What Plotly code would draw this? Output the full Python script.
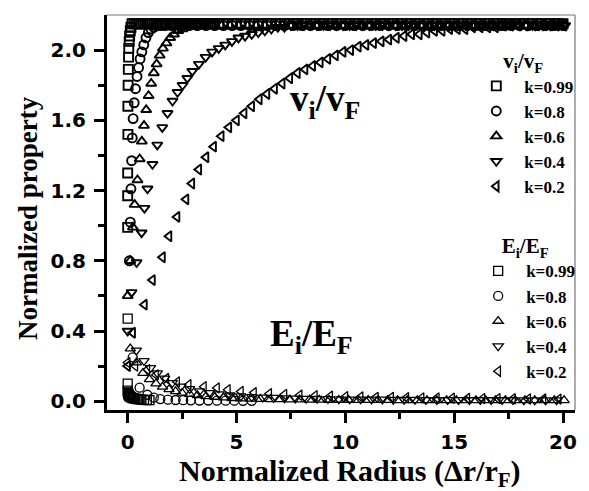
import plotly.graph_objects as go

# ---------------- data ----------------
k_labels = ["k=0.99", "k=0.8", "k=0.6", "k=0.4", "k=0.2"]
symbols = ["square-open", "circle-open", "triangle-up-open", "triangle-down-open", "triangle-left-open"]

# v_i / v_F  (k = 0.99)
sq_v_x = [0.00, 0.00, 0.00, 0.01, 0.01, 0.02, 0.03, 0.04, 0.05, 0.07, 0.09, 0.12, 0.15,
          0.2, 0.3, 0.4, 0.5, 0.6, 0.7, 0.8, 0.9, 1.0, 1.1,
          1.2, 1.3, 1.4, 1.5, 1.6, 1.7, 1.8, 1.9, 2.0, 2.1,
          2.2, 2.3, 2.4, 2.5, 2.6, 2.7, 2.8, 2.9, 3.0, 3.1,
          3.2, 3.3, 3.4, 3.5, 3.6, 3.7, 3.8, 3.9, 4.0,
          4.2, 4.4, 4.6, 4.8, 5.0, 5.2, 5.4, 5.6, 5.8, 6.0,
          6.2, 6.4, 6.6, 6.8, 7.0, 7.2, 7.4, 7.6, 7.8, 8.0,
          8.2, 8.4, 8.6, 8.8, 9.0, 9.2, 9.4, 9.6, 9.8, 10.0,
          10.2, 10.4, 10.6, 10.8, 11.0, 11.2, 11.4, 11.6, 11.8, 12.0,
          12.2, 12.4, 12.6, 12.8, 13.0, 13.2, 13.4, 13.6, 13.8, 14.0,
          14.2, 14.4, 14.6, 14.8, 15.0, 15.2, 15.4, 15.6, 15.8, 16.0,
          16.2, 16.4, 16.6, 16.8, 17.0, 17.2, 17.4, 17.6, 17.8, 18.0,
          18.2, 18.4, 18.6, 18.8, 19.0, 19.2, 19.4, 19.6, 19.8, 20.0]
sq_v_y = [0.99, 1.17, 1.30, 1.52, 1.68, 1.80, 1.89, 1.96, 2.01, 2.05, 2.08, 2.11, 2.13,
          2.15, 2.15, 2.15, 2.15, 2.15, 2.15, 2.15, 2.15, 2.15, 2.15,
          2.15, 2.15, 2.15, 2.15, 2.15, 2.15, 2.15, 2.15, 2.15, 2.15,
          2.15, 2.15, 2.15, 2.15, 2.15, 2.15, 2.15, 2.15, 2.15, 2.15,
          2.15, 2.15, 2.15, 2.15, 2.15, 2.15, 2.15, 2.15, 2.15,
          2.15, 2.15, 2.15, 2.15, 2.15, 2.15, 2.15, 2.15, 2.15, 2.15,
          2.15, 2.15, 2.15, 2.15, 2.15, 2.15, 2.15, 2.15, 2.15, 2.15,
          2.15, 2.15, 2.15, 2.15, 2.15, 2.15, 2.15, 2.15, 2.15, 2.15,
          2.15, 2.15, 2.15, 2.15, 2.15, 2.15, 2.15, 2.15, 2.15, 2.15,
          2.15, 2.15, 2.15, 2.15, 2.15, 2.15, 2.15, 2.15, 2.15, 2.15,
          2.15, 2.15, 2.15, 2.15, 2.15, 2.15, 2.15, 2.15, 2.15, 2.15,
          2.15, 2.15, 2.15, 2.15, 2.15, 2.15, 2.15, 2.15, 2.15, 2.15,
          2.15, 2.15, 2.15, 2.15, 2.15, 2.15, 2.15, 2.15, 2.15, 2.15]

# v_i / v_F  (k = 0.8)
ci_v_x = [0.08, 0.12, 0.15, 0.18, 0.21, 0.25, 0.30, 0.36, 0.43, 0.50,
          0.57, 0.65, 0.74, 0.84, 0.95, 1.07, 1.20, 1.35, 1.52, 1.72,
          2.0, 2.4, 2.8, 3.2, 3.6, 4.0, 4.4, 4.8, 5.2, 5.6,
          6.0, 6.4, 6.8, 7.2, 7.6, 8.0, 8.4, 8.8, 9.2, 9.6,
          10.0, 10.4, 10.8, 11.2, 11.6, 12.0, 12.4, 12.8, 13.2, 13.6,
          14.0, 14.4, 14.8, 15.2, 15.6, 16.0, 16.4, 16.8, 17.2, 17.6,
          18.0, 18.4, 18.8, 19.2, 19.6, 20.0]
ci_v_y = [0.80, 1.02, 1.21, 1.37, 1.50, 1.61, 1.70, 1.78, 1.85, 1.90,
          1.95, 1.99, 2.03, 2.07, 2.10, 2.12, 2.13, 2.14, 2.14, 2.14,
          2.14, 2.14, 2.14, 2.14, 2.14, 2.14, 2.14, 2.14, 2.14, 2.14,
          2.14, 2.14, 2.14, 2.14, 2.14, 2.14, 2.14, 2.14, 2.14, 2.14,
          2.14, 2.14, 2.14, 2.14, 2.14, 2.14, 2.14, 2.14, 2.14, 2.14,
          2.14, 2.14, 2.14, 2.14, 2.14, 2.14, 2.14, 2.14, 2.14, 2.14,
          2.14, 2.14, 2.14, 2.14, 2.14, 2.14]

# v_i / v_F  (k = 0.6)
tu_v_x = [0.00, 0.12, 0.24, 0.32, 0.45, 0.55, 0.65, 0.75, 0.85, 0.96,
          1.08, 1.20, 1.33, 1.47, 1.62, 1.78, 1.95, 2.13, 2.32, 2.52,
          2.73, 2.95, 3.20,
          3.5, 3.9, 4.3, 4.7, 5.1, 5.5, 5.9, 6.3, 6.7, 7.1,
          7.5, 7.9, 8.3, 8.7, 9.1, 9.5, 9.9, 10.3, 10.7, 11.1,
          11.5, 11.9, 12.3, 12.7, 13.1, 13.5, 13.9, 14.3, 14.7, 15.1,
          15.5, 15.9, 16.3, 16.7, 17.1, 17.5, 17.9, 18.3, 18.7, 19.1,
          19.5, 19.9]
tu_v_y = [0.60, 0.80, 0.99, 1.12, 1.26, 1.38, 1.48, 1.57, 1.66, 1.74,
          1.81, 1.87, 1.92, 1.97, 2.01, 2.04, 2.07, 2.09, 2.11, 2.12,
          2.13, 2.14, 2.14,
          2.14, 2.14, 2.14, 2.14, 2.14, 2.14, 2.14, 2.14, 2.14, 2.14,
          2.14, 2.14, 2.14, 2.14, 2.14, 2.14, 2.14, 2.14, 2.14, 2.14,
          2.14, 2.14, 2.14, 2.14, 2.14, 2.14, 2.14, 2.14, 2.14, 2.14,
          2.14, 2.14, 2.14, 2.14, 2.14, 2.14, 2.14, 2.14, 2.14, 2.14,
          2.14, 2.14]

# v_i / v_F  (k = 0.4)
td_v_x = [0.00, 0.18, 0.41, 0.64, 0.77, 0.91, 1.14, 1.36, 1.59, 1.83,
          2.06, 2.29, 2.52, 2.74, 2.97, 3.27, 3.58, 3.88, 4.18, 4.48,
          4.79, 5.09, 5.39, 5.70, 6.0, 6.3, 6.6, 6.9, 7.2, 7.5,
          7.8,
          8.1, 8.4, 8.7, 9.0, 9.3, 9.6, 9.9, 10.2, 10.5, 10.8,
          11.1, 11.4, 11.7, 12.0, 12.3, 12.6, 12.9, 13.2, 13.5, 13.8,
          14.1, 14.4, 14.7, 15.0, 15.3, 15.6, 15.9, 16.2, 16.5, 16.8,
          17.1, 17.4, 17.7, 18.0, 18.3, 18.6, 18.9, 19.2, 19.5, 19.8,
          20.1]
td_v_y = [0.40, 0.62, 0.79, 0.96, 1.10, 1.21, 1.35, 1.46, 1.56, 1.64,
          1.71, 1.76, 1.80, 1.84, 1.88, 1.92, 1.96, 1.99, 2.01, 2.03,
          2.05, 2.07, 2.08, 2.09, 2.10, 2.11, 2.12, 2.13, 2.13, 2.14,
          2.14,
          2.14, 2.14, 2.14, 2.14, 2.14, 2.14, 2.14, 2.14, 2.14, 2.14,
          2.14, 2.14, 2.14, 2.14, 2.14, 2.14, 2.14, 2.14, 2.14, 2.14,
          2.14, 2.14, 2.14, 2.14, 2.14, 2.14, 2.14, 2.14, 2.14, 2.14,
          2.14, 2.14, 2.14, 2.14, 2.14, 2.14, 2.14, 2.14, 2.14, 2.14,
          2.14]

# v_i / v_F  (k = 0.2)
tl_v_x = [0.0, 0.23, 0.77, 1.14, 1.6, 1.9, 2.27, 2.68, 2.95, 3.27,
          3.6, 3.95, 4.3, 4.65, 5.0, 5.35, 5.7, 6.05, 6.4, 6.75,
          7.1, 7.45, 7.8, 8.15, 8.5, 8.85, 9.2, 9.55, 9.9, 10.25,
          10.6, 10.95, 11.3, 11.65, 12.0, 12.35, 12.7, 13.05, 13.4, 13.75,
          14.1, 14.45, 14.8, 15.15, 15.5, 15.85, 16.2, 16.55, 16.9, 17.25,
          17.6, 17.95, 18.3, 18.65, 19.0, 19.35, 19.7, 20.05]
tl_v_y = [0.20, 0.39, 0.55, 0.69, 0.82, 0.94, 1.05, 1.15, 1.24, 1.32,
          1.39, 1.45, 1.51, 1.56, 1.60, 1.64, 1.68, 1.72, 1.75, 1.78,
          1.81, 1.84, 1.87, 1.89, 1.91, 1.93, 1.95, 1.97, 1.99, 2.00,
          2.02, 2.03, 2.04, 2.05, 2.06, 2.07, 2.08, 2.09, 2.09, 2.10,
          2.11, 2.11, 2.12, 2.12, 2.12, 2.13, 2.13, 2.13, 2.13, 2.14,
          2.14, 2.14, 2.14, 2.14, 2.14, 2.14, 2.14, 2.14]

# E_i / E_F  (k = 0.99)
sq_e_x = [0.00, 0.00, 0.00, 0.01, 0.02, 0.03, 0.05, 0.07, 0.10, 0.14,
          0.18, 0.23, 0.29, 0.36, 0.44, 0.53, 0.63, 0.75, 0.88, 1.00]
sq_e_y = [0.47, 0.10, 0.06, 0.05, 0.045, 0.04, 0.035, 0.03, 0.027, 0.024,
          0.021, 0.018, 0.016, 0.014, 0.012, 0.010, 0.009, 0.008, 0.007, 0.006]

# E_i / E_F  (k = 0.8)
ci_e_x = [0.23, 0.55, 0.9, 1.2, 1.5, 1.85, 2.2, 2.55, 2.9, 3.3,
          3.7, 4.1, 4.5, 4.9, 5.3, 5.7]
ci_e_y = [0.25, 0.077, 0.037, 0.020, 0.012, 0.009, 0.007, 0.006, 0.005, 0.004,
          0.004, 0.003, 0.003, 0.003, 0.002, 0.002]

# E_i / E_F  (k = 0.6)
tu_e_x = [0.12, 0.4, 0.7, 1.0, 1.3, 1.6, 1.9, 2.2, 2.5, 2.85,
          3.2, 3.6, 4.0, 4.4, 4.8, 5.2, 5.65, 6.1, 6.55, 7.0,
          7.45, 7.9, 8.35, 8.8, 9.25, 9.7, 10.15, 10.6, 11.05, 11.5,
          11.95, 12.4, 12.85, 13.3, 13.75, 14.2, 14.65, 15.1, 15.55, 16.0,
          16.45, 16.9, 17.35, 17.8, 18.25, 18.7, 19.15, 19.6, 20.05]
tu_e_y = [0.30, 0.22, 0.16, 0.125, 0.10, 0.082, 0.068, 0.056, 0.047, 0.040,
          0.034, 0.028, 0.024, 0.020, 0.017, 0.015, 0.013, 0.012, 0.011, 0.010,
          0.009, 0.009, 0.008, 0.008, 0.007, 0.007, 0.007, 0.006, 0.006, 0.006,
          0.006, 0.005, 0.005, 0.005, 0.005, 0.005, 0.005, 0.005, 0.005, 0.005,
          0.005, 0.005, 0.005, 0.005, 0.005, 0.005, 0.005, 0.005, 0.005]

# E_i / E_F  (k = 0.4)
td_e_x = [0.4, 0.75, 1.05, 1.36, 1.7, 2.05, 2.45, 2.85, 3.3, 3.75,
          4.2, 4.7, 5.2, 5.7, 6.2, 6.7, 7.2, 7.7, 8.2, 8.7,
          9.2, 9.7, 10.2, 10.7, 11.2, 11.7, 12.2, 12.7, 13.2, 13.7,
          14.2, 14.7, 15.2, 15.7, 16.2, 16.7, 17.2, 17.7, 18.2, 18.7,
          19.2, 19.7]
td_e_y = [0.29, 0.23, 0.19, 0.16, 0.13, 0.105, 0.085, 0.070, 0.058, 0.048,
          0.040, 0.034, 0.029, 0.025, 0.022, 0.020, 0.018, 0.016, 0.015, 0.014,
          0.013, 0.012, 0.011, 0.011, 0.010, 0.010, 0.009, 0.009, 0.009, 0.008,
          0.008, 0.008, 0.008, 0.007, 0.007, 0.007, 0.007, 0.007, 0.006, 0.006,
          0.006, 0.006]

# E_i / E_F  (k = 0.2)
tl_e_x = [0.0, 0.35, 0.9, 1.3, 1.77, 2.27, 2.8, 3.5, 4.1, 4.6,
          5.2, 5.8, 6.5, 7.2, 7.9, 8.6, 9.3, 10.0, 10.7, 11.4,
          12.1, 12.8, 13.5, 14.2, 14.9, 15.6, 16.3, 17.0, 17.7, 18.4,
          19.1, 19.8]
tl_e_y = [0.22, 0.20, 0.18, 0.15, 0.13, 0.11, 0.094, 0.083, 0.076, 0.065,
          0.056, 0.049, 0.043, 0.038, 0.034, 0.031, 0.028, 0.026, 0.024, 0.022,
          0.021, 0.020, 0.019, 0.018, 0.017, 0.016, 0.015, 0.015, 0.014, 0.013,
          0.013, 0.012]

v_series = [(sq_v_x, sq_v_y), (ci_v_x, ci_v_y), (tu_v_x, tu_v_y), (td_v_x, td_v_y), (tl_v_x, tl_v_y)]
e_series = [(sq_e_x, sq_e_y), (ci_e_x, ci_e_y), (tu_e_x, tu_e_y), (td_e_x, td_e_y), (tl_e_x, tl_e_y)]
for xs, ys in v_series + e_series:
    assert len(xs) == len(ys), (len(xs), len(ys))

x_ticks = [0, 5, 10, 15, 20]
x_minor = [2.5, 7.5, 12.5, 17.5]
y_ticks = [0.0, 0.4, 0.8, 1.2, 1.6, 2.0]
y_ticktext = ["0.0", "0.4", "0.8", "1.2", "1.6", "2.0"]
y_minor = [0.2, 0.6, 1.0, 1.4, 1.8]

SERIF = "Liberation Serif"
fig = go.Figure()

for (xs, ys), name, sym in zip(v_series, k_labels, symbols):
    fig.add_trace(go.Scatter(x=xs, y=ys, mode="markers", name=name, legend="legend",
                             marker=dict(symbol=sym, size=9, color="black",
                                         line=dict(width=1.9, color="black"))))
for (xs, ys), name, sym in zip(e_series, k_labels, symbols):
    fig.add_trace(go.Scatter(x=xs, y=ys, mode="markers", name=name, legend="legend2",
                             marker=dict(symbol=sym, size=9, color="black",
                                         line=dict(width=1.3, color="black"))))

tickfont = dict(family="DejaVu Sans", size=20, color="black", weight="bold")
axis_common = dict(showgrid=False, zeroline=False, showline=True, linecolor="black", linewidth=3,
                   ticks="outside", ticklen=10, tickwidth=3, tickcolor="black", tickfont=tickfont)

fig.update_layout(
    width=589, height=491, autosize=False,
    margin=dict(l=107, r=9, t=15, b=81),
    paper_bgcolor="white", plot_bgcolor="white",
    xaxis=dict(range=[-0.95, 20.55], tickvals=x_ticks, ticklabelstandoff=2,
               minor=dict(tickvals=x_minor, ticks="outside", ticklen=6, tickwidth=3, tickcolor="black"),
               **axis_common),
    yaxis=dict(range=[-0.05, 2.2], tickvals=y_ticks, ticktext=y_ticktext, ticklabelstandoff=4,
               minor=dict(tickvals=y_minor, ticks="outside", ticklen=6, tickwidth=3, tickcolor="black"),
               **axis_common),
    legend=dict(x=0.772, y=0.934, xanchor="left", yanchor="top", bgcolor="rgba(0,0,0,0)",
                borderwidth=0, itemwidth=46, tracegroupgap=0,
                font=dict(family=SERIF, size=17, color="black", weight="bold"),
                title=dict(text="v<sub>i</sub>/v<sub>F</sub>", side="top center",
                           font=dict(family=SERIF, size=21, color="black", weight="bold"))),
    legend2=dict(x=0.776, y=0.466, xanchor="left", yanchor="top", bgcolor="rgba(0,0,0,0)",
                 borderwidth=0, itemwidth=46, tracegroupgap=0,
                 font=dict(family=SERIF, size=17, color="black", weight="bold"),
                 title=dict(text="E<sub>i</sub>/E<sub>F</sub>", side="top center",
                            font=dict(family=SERIF, size=21, color="black", weight="bold"))),
    showlegend=True,
)

# thin grey frame on top and right
fig.add_shape(type="line", xref="paper", yref="paper", x0=0, x1=1, y0=1, y1=1,
              line=dict(color="#777777", width=1.2))
fig.add_shape(type="line", xref="paper", yref="paper", x0=1, x1=1, y0=0, y1=1,
              line=dict(color="#777777", width=1.2))

# axis titles and in-plot labels
fig.add_annotation(text="Normalized property", xref="paper", yref="paper", x=-0.169, y=0.486,
                   textangle=-90, showarrow=False, xanchor="center", yanchor="middle",
                   font=dict(family=SERIF, size=27, color="black", weight="bold"))
fig.add_annotation(text="Normalized Radius (Δr/r<sub>F</sub>)", xref="paper", yref="paper",
                   x=0.52, y=-0.16, showarrow=False, xanchor="center", yanchor="middle",
                   font=dict(family=SERIF, size=30, color="black", weight="bold"))
fig.add_annotation(text="v<sub>i</sub>/v<sub>F</sub>", xref="paper", yref="paper",
                   x=0.387, y=0.782, showarrow=False, xanchor="left", yanchor="middle",
                   font=dict(family=SERIF, size=37, color="black", weight="bold"))
fig.add_annotation(text="E<sub>i</sub>/E<sub>F</sub>", xref="paper", yref="paper",
                   x=0.345, y=0.185, showarrow=False, xanchor="left", yanchor="middle",
                   font=dict(family=SERIF, size=37, color="black", weight="bold"))

fig.write_html("out.html")
